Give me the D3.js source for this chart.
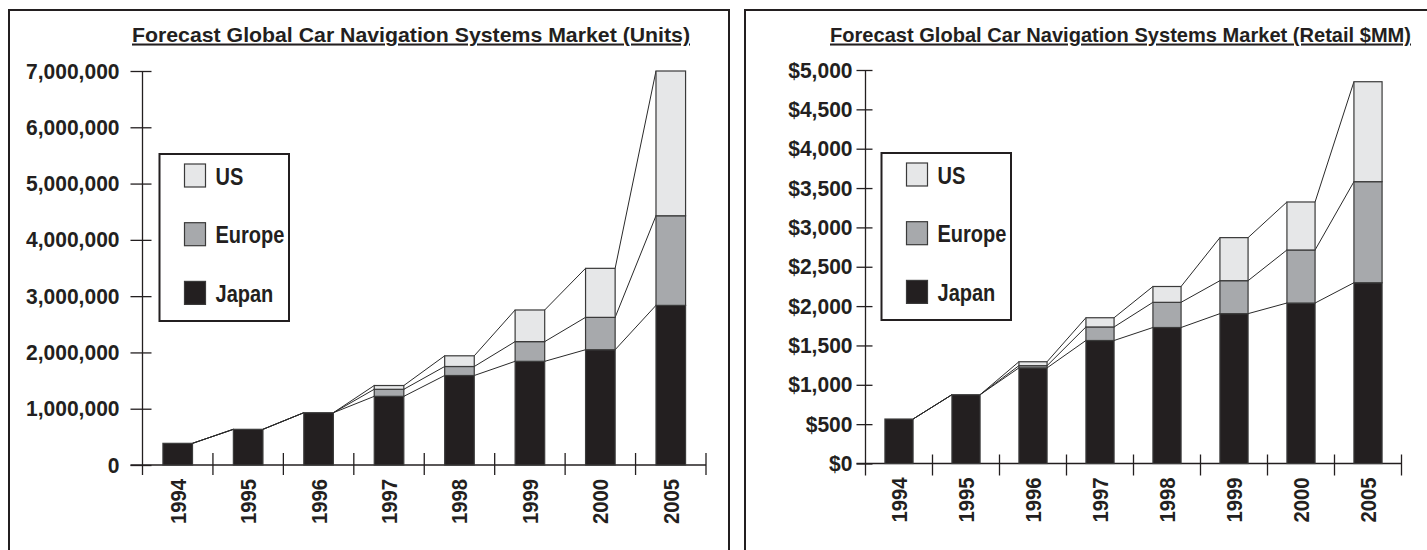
<!DOCTYPE html>
<html>
<head>
<meta charset="utf-8">
<script src="https://cdn.jsdelivr.net/npm/d3@7"></script>
<style>
  html, body { margin: 0; padding: 0; background: #fff; }
  svg { display: block; }
  text { font-family: "Liberation Sans", Arial, Helvetica, sans-serif; font-weight: bold; fill: #231f20; }
</style>
</head>
<body>
<svg id="chart" width="1427" height="550"></svg>
<script>
// Years shown on both charts
const years = ["1994", "1995", "1996", "1997", "1998", "1999", "2000", "2005"];
const regions = ["Japan", "Europe", "US"];

// Unit shipments by region
const unitsJapan  = [385000, 634000, 929000, 1220000, 1590000, 1842000, 2048000, 2836000];
const unitsEurope = [0, 0, 0, 125000, 160000, 350000, 575000, 1592000];
const unitsUS     = [0, 0, 0, 67000, 190000, 562000, 871000, 2572000];
const unitTicks   = [0, 1000000, 2000000, 3000000, 4000000, 5000000, 6000000, 7000000];

// Retail value by region, $ millions
const retailJapan  = [565, 874, 1215, 1563, 1728, 1904, 2039, 2297];
const retailEurope = [0, 0, 28, 172, 320, 419, 674, 1284];
const retailUS     = [0, 0, 50, 117, 201, 547, 610, 1270];
const retailTicks  = [0, 500, 1000, 1500, 2000, 2500, 3000, 3500, 4000, 4500, 5000];

const regionFill = { Japan: "#231f20", Europe: "#a7a9ac", US: "#e6e7e8" };
const legendOrder = ["US", "Europe", "Japan"];

const svg = d3.select("#chart");
const ink = "#231f20";

// narrow the glyphs of a text selection to a fraction of their natural width
function condense(sel, f) {
  sel.each(function () {
    const len = this.getComputedTextLength();
    d3.select(this).attr("textLength", len * f).attr("lengthAdjust", "spacingAndGlyphs");
  });
}

function drawPanel(cfg) {
  const rows = years.map((y, i) => ({
    year: y, Japan: cfg.japan[i], Europe: cfg.europe[i], US: cfg.us[i]
  }));
  const series = d3.stack().keys(regions)(rows);

  const g = svg.append("g");

  // panel frame (left, top, right edges; bottom runs off the page)
  const fr = cfg.frame;
  g.append("path")
    .attr("d", `M${fr.x0},${fr.y1} V${fr.y0} H${fr.x1}` + (fr.closeRight ? ` V${fr.y1}` : ""))
    .attr("fill", "none").attr("stroke", ink).attr("stroke-width", 2);

  // title
  g.append("text")
    .attr("x", cfg.titleX).attr("y", 41.5)
    .attr("text-anchor", "middle")
    .attr("font-size", 20.5)
    .attr("text-decoration", "underline")
    .attr("textLength", cfg.titleW).attr("lengthAdjust", "spacingAndGlyphs")
    .text(cfg.title);

  const x = d3.scaleBand().domain(years).range([cfg.x0, cfg.x1]).paddingInner(0.58).paddingOuter(0.29);
  const y = d3.scaleLinear().domain([0, cfg.max]).range([cfg.y0, cfg.y1]);

  // y axis
  const yAxis = d3.axisLeft(y).tickValues(cfg.ticks).tickFormat(cfg.fmt)
    .tickSize(0).tickPadding(cfg.labelGap);
  const ya = g.append("g").attr("transform", `translate(${cfg.x0},0)`).call(yAxis);
  ya.select(".domain").remove();
  ya.selectAll("text").attr("font-size", 22).attr("fill", ink).attr("font-family", null)
    .call(condense, 0.955);
  ya.selectAll(".tick").append("line")
    .attr("x1", -cfg.yTickOut).attr("x2", cfg.yTickIn)
    .attr("stroke", ink).attr("stroke-width", 1.3);
  g.append("line")
    .attr("x1", cfg.x0).attr("x2", cfg.x0)
    .attr("y1", y(cfg.max)).attr("y2", cfg.y0 + cfg.xTickDown)
    .attr("stroke", ink).attr("stroke-width", 1.3);

  // x axis baseline and category dividers
  g.append("line")
    .attr("x1", cfg.x0 - cfg.yTickOut).attr("x2", cfg.x1)
    .attr("y1", cfg.y0).attr("y2", cfg.y0)
    .attr("stroke", ink).attr("stroke-width", 1.3);
  const step = x.step();
  g.selectAll(".xdiv").data(years.slice(1).concat(["end"])).join("line")
    .attr("x1", (d, i) => cfg.x0 + (i + 1) * step)
    .attr("x2", (d, i) => cfg.x0 + (i + 1) * step)
    .attr("y1", cfg.y0 - cfg.xTickUp).attr("y2", cfg.y0 + cfg.xTickDown)
    .attr("stroke", ink).attr("stroke-width", 1.3);

  // year labels, rotated
  g.selectAll(".yr").data(years).join("text")
    .attr("transform", d => `translate(${x(d) + x.bandwidth() / 2 + 8},${cfg.y0 + 14}) rotate(-90)`)
    .attr("text-anchor", "end")
    .attr("font-size", 22.5)
    .text(d => d)
    .call(condense, 0.9);

  // connector lines between stacked bar tops
  series.forEach(s => {
    for (let i = 0; i < years.length - 1; i++) {
      g.append("line")
        .attr("x1", x(years[i]) + x.bandwidth()).attr("y1", y(s[i][1]))
        .attr("x2", x(years[i + 1])).attr("y2", y(s[i + 1][1]))
        .attr("stroke", "#2a2a2a").attr("stroke-width", 1);
    }
  });

  // stacked bars
  g.selectAll(".layer").data(series).join("g")
    .attr("fill", d => regionFill[d.key])
    .selectAll("rect").data(d => d.filter(p => p[1] > p[0])).join("rect")
    .attr("x", d => x(d.data.year))
    .attr("y", d => y(d[1]))
    .attr("width", x.bandwidth())
    .attr("height", d => y(d[0]) - y(d[1]))
    .attr("stroke", "#3a3a3a").attr("stroke-width", 1.2);

  // legend
  const L = cfg.legend;
  g.append("rect")
    .attr("x", L.x).attr("y", L.y).attr("width", L.w).attr("height", L.h)
    .attr("fill", "#fff").attr("stroke", ink).attr("stroke-width", 2);
  legendOrder.forEach((k, i) => {
    const sy = L.y + 10 + i * 58.7;
    g.append("rect")
      .attr("x", L.x + 25).attr("y", sy).attr("width", 21).attr("height", 23)
      .attr("fill", regionFill[k]).attr("stroke", "#3a3a3a").attr("stroke-width", 1.2);
    g.append("text")
      .attr("x", L.x + 56).attr("y", sy + 20.5)
      .attr("font-size", 23)
      .text(k)
      .call(condense, 0.87);
  });
}

drawPanel({
  title: "Forecast Global Car Navigation Systems Market (Units)",
  titleX: 411, titleW: 558,
  frame: { x0: 9, x1: 729, y0: 10, y1: 560, closeRight: true },
  japan: unitsJapan, europe: unitsEurope, us: unitsUS,
  max: 7000000, ticks: unitTicks, fmt: d3.format(","),
  x0: 142.5, x1: 706, y0: 465, y1: 71,
  labelGap: 23, yTickOut: 12, yTickIn: 9,
  xTickUp: 12, xTickDown: 10,
  legend: { x: 159.5, y: 154, w: 129.5, h: 167 }
});

drawPanel({
  title: "Forecast Global Car Navigation Systems Market (Retail $MM)",
  titleX: 1120.5, titleW: 581,
  frame: { x0: 745, x1: 1440, y0: 10, y1: 560, closeRight: false },
  japan: retailJapan, europe: retailEurope, us: retailUS,
  max: 5000, ticks: retailTicks, fmt: v => "$" + d3.format(",")(v),
  x0: 865.5, x1: 1401.5, y0: 463.5, y1: 70,
  labelGap: 13, yTickOut: 9, yTickIn: 7,
  xTickUp: 9, xTickDown: 12,
  legend: { x: 881.5, y: 153, w: 129.5, h: 167 }
});
</script>
</body>
</html>
